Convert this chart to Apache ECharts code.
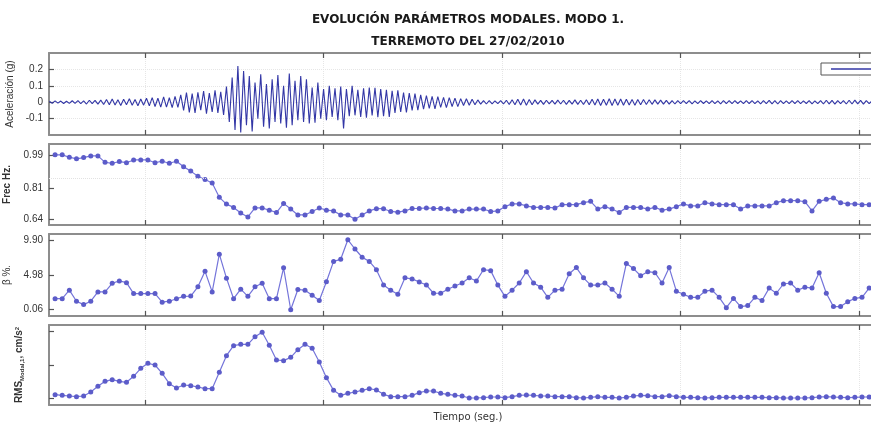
<!DOCTYPE html>
<html>
<head>
    <meta charset="utf-8">
    <script src="https://cdn.jsdelivr.net/npm/echarts@6.0.0/dist/echarts.min.js"></script>
    <style>html, body { margin: 0; padding: 0; background: #fff; }</style>
</head>
<body>
<div id="myChart" style="width: 871px; height: 428px;"></div>

<script type="text/javascript">
    var chart = echarts.init(document.getElementById('myChart'));

    // eje de tiempo: una ventana por índice, marcas cada 25 ventanas
    var xTicks = [12.6, 37.6, 62.6, 87.6, 112.6];

    // registro de aceleración (g), una muestra cada 0.4 ventanas
    var accStart = -0.8;
    var accStep = 0.4;
    var accel = [
        0.006, -0.007, 0.008, -0.006, 0.007, -0.008, 0.006, -0.007, 0.009, -0.007,
        0.01, -0.009, 0.008, -0.011, 0.012, -0.009, 0.011, -0.012, 0.013, -0.014,
        0.016, -0.015, 0.019, -0.017, 0.015, -0.02, 0.018, -0.016, 0.021, -0.019,
        0.017, -0.022, 0.02, -0.018, 0.024, -0.022, 0.028, -0.026, 0.024, -0.03,
        0.032, -0.03, 0.027, -0.033, 0.035, -0.032, 0.045, -0.05, 0.058, -0.062,
        0.052, -0.066, 0.06, -0.048, 0.068, -0.07, 0.055, -0.06, 0.072, -0.065,
        0.064, -0.078, 0.095, -0.12, 0.15, -0.17, 0.221, -0.185, 0.19, -0.14,
        0.16, -0.178, 0.12, -0.1, 0.17, -0.15, 0.11, -0.16, 0.14, -0.12,
        0.165, -0.13, 0.1, -0.155, 0.175, -0.14, 0.13, -0.11, 0.16, -0.12,
        0.14, -0.13, 0.09, -0.125, 0.12, -0.1, 0.08, -0.11, 0.1, -0.09,
        0.085, -0.11, 0.095, -0.16, 0.08, -0.085, 0.1, -0.08, 0.075, -0.09,
        0.085, -0.095, 0.09, -0.08, 0.088, -0.092, 0.08, -0.085, 0.075, -0.09,
        0.07, -0.065, 0.072, -0.06, 0.058, -0.062, 0.055, -0.05, 0.052, -0.048,
        0.045, -0.042, 0.04, -0.038, 0.036, -0.04, 0.034, -0.032, 0.03, -0.033,
        0.028, -0.026, 0.025, -0.027, 0.022, -0.02, 0.021, -0.019, 0.018, -0.016,
        0.014, -0.012, 0.01, -0.011, 0.009, -0.01, 0.008, -0.009, 0.01, -0.011,
        0.012, -0.014, 0.015, -0.016, 0.018, -0.017, 0.019, -0.018, 0.016, -0.015,
        0.014, -0.012, 0.011, -0.013, 0.012, -0.01, 0.011, -0.012, 0.013, -0.011,
        0.012, -0.013, 0.011, -0.012, 0.014, -0.013, 0.012, -0.014, 0.015, -0.016,
        0.018, -0.017, 0.019, -0.02, 0.018, -0.019, 0.021, -0.02, 0.019, -0.018,
        0.02, -0.019, 0.018, -0.017, 0.016, -0.018, 0.017, -0.015, 0.016, -0.014,
        0.015, -0.013, 0.014, -0.012, 0.013, -0.012, 0.011, -0.012, 0.01, -0.011,
        0.01, -0.009, 0.01, -0.008, 0.009, -0.01, 0.008, -0.009, 0.009, -0.008,
        0.008, -0.009, 0.01, -0.009, 0.008, -0.01, 0.009, -0.008, 0.01, -0.009,
        0.009, -0.008, 0.008, -0.009, 0.01, -0.008, 0.009, -0.009, 0.008, -0.01,
        0.01, -0.009, 0.011, -0.01, 0.009, -0.011, 0.01, -0.009, 0.008, -0.009,
        0.009, -0.008, 0.01, -0.009, 0.008, -0.008, 0.009, -0.01, 0.008, -0.009,
        0.01, -0.011, 0.012, -0.01, 0.011, -0.012, 0.01, -0.009, 0.01, -0.011,
        0.012, -0.011, 0.013, -0.01, 0.011, -0.012, 0.01, -0.009, 0.008, -0.009,
        0.008, -0.008, 0.007
    ];

    // frecuencia del modo 1 (Hz), una por ventana
    var frec = [
        0.99, 0.99, 0.977, 0.968, 0.975, 0.984, 0.984, 0.949, 0.944, 0.953,
        0.947, 0.962, 0.962, 0.962, 0.947, 0.955, 0.944, 0.955, 0.925, 0.901,
        0.873, 0.855, 0.836, 0.758, 0.721, 0.703, 0.672, 0.651, 0.70, 0.70,
        0.688, 0.675, 0.725, 0.694, 0.662, 0.662, 0.681, 0.70, 0.688, 0.684,
        0.662, 0.662, 0.638, 0.662, 0.684, 0.696, 0.696, 0.681, 0.677, 0.684,
        0.697, 0.697, 0.70, 0.697, 0.697, 0.694, 0.684, 0.684, 0.694, 0.694,
        0.694, 0.68, 0.684, 0.707, 0.722, 0.722, 0.711, 0.703, 0.703, 0.703,
        0.70, 0.718, 0.718, 0.718, 0.729, 0.736, 0.694, 0.707, 0.694, 0.675,
        0.703, 0.703, 0.703, 0.694, 0.703, 0.688, 0.694, 0.707, 0.722, 0.711,
        0.711, 0.729, 0.722, 0.718, 0.718, 0.718, 0.694, 0.711, 0.711, 0.711,
        0.711, 0.729, 0.74, 0.74, 0.74, 0.734, 0.684, 0.736, 0.747, 0.755,
        0.729, 0.722, 0.722, 0.718, 0.718
    ];

    // amortiguamiento (%)
    var beta = [
        1.61, 1.61, 2.81, 1.26, 0.78, 1.26, 2.57, 2.57, 3.78, 4.11,
        3.87, 2.33, 2.33, 2.33, 2.33, 1.12, 1.26, 1.61, 1.94, 1.98,
        3.29, 5.46, 2.57, 7.87, 4.50, 1.61, 2.95, 1.94, 3.29, 3.78,
        1.61, 1.61, 5.95, 0.06, 2.91, 2.81, 2.09, 1.36, 4.0, 6.86,
        7.15, 9.9, 8.6, 7.44, 6.86, 5.7, 3.53, 2.81, 2.23, 4.55,
        4.4, 3.97, 3.53, 2.38, 2.38, 2.95, 3.39, 3.82, 4.55, 4.1,
        5.7, 5.56, 3.53, 1.94, 2.81, 3.82, 5.41, 3.82, 3.24, 1.8,
        2.81, 2.95, 5.12, 5.99, 4.55, 3.53, 3.53, 3.82, 2.95, 1.94,
        6.57, 5.85, 4.84, 5.41, 5.27, 3.82, 5.99, 2.67, 2.23, 1.8,
        1.8, 2.67, 2.81, 1.8, 0.35, 1.65, 0.5, 0.64, 1.8, 1.36,
        3.1, 2.38, 3.68, 3.82, 2.81, 3.24, 3.1, 5.27, 2.38, 0.5,
        0.5, 1.2, 1.65, 1.8, 3.1
    ];

    // RMS modal (escala relativa, sin etiquetas en el original)
    var rms = [
        0.11, 0.09, 0.07, 0.05, 0.07, 0.19, 0.36, 0.51, 0.56, 0.51,
        0.48, 0.66, 0.90, 1.05, 1.0, 0.75, 0.44, 0.31, 0.40, 0.38,
        0.34, 0.29, 0.29, 0.78, 1.28, 1.58, 1.62, 1.62, 1.85, 1.98,
        1.59, 1.15, 1.13, 1.23, 1.46, 1.62, 1.5, 1.09, 0.62, 0.24,
        0.09, 0.15, 0.19, 0.24, 0.29, 0.25, 0.12, 0.05, 0.05, 0.05,
        0.09, 0.17, 0.22, 0.22, 0.15, 0.12, 0.09, 0.07, 0.01, 0.01,
        0.02, 0.04, 0.04, 0.02, 0.05, 0.09, 0.1, 0.09, 0.07, 0.07,
        0.05, 0.05, 0.05, 0.02, 0.01, 0.03, 0.05, 0.03, 0.03, 0.01,
        0.03, 0.07, 0.09, 0.08, 0.05, 0.05, 0.08, 0.05, 0.03, 0.03,
        0.02, 0.01, 0.02, 0.03, 0.03, 0.03, 0.03, 0.03, 0.03, 0.03,
        0.02, 0.02, 0.01, 0.01, 0.01, 0.01, 0.02, 0.04, 0.05, 0.04,
        0.03, 0.02, 0.03, 0.04, 0.04
    ];

    var accTicks = [-0.1, 0, 0.1, 0.2];
    var frecTicks = [0.64, 0.81, 0.99];
    var betaTicks = [0.06, 4.98, 9.90];
    var rmsTicks = [0, 1, 2];

    var accData = accel.map(function (v, k) {
        return [accStart + k * accStep, v];
    });
    function byWindow(arr) {
        return arr.map(function (v, i) { return [i, v]; });
    }

    var frameColor = '#8d8d8d';
    var tickColor = '#555';
    var labelFont = 'Liberation Sans';

    var panels = [
        {top: 53, height: 82, min: -0.2, max: 0.3, ticks: accTicks, digits: -1,
            name: 'Aceleración (g)', gap: 27, bold: false},
        {top: 144, height: 81, min: 0.607, max: 1.049, ticks: frecTicks, digits: 2,
            name: 'Frec Hz.', gap: 33, bold: true},
        {top: 234, height: 82, min: -0.82, max: 10.71, ticks: betaTicks, digits: 2,
            name: 'β %.', gap: 31, bold: false},
        {top: 325, height: 80, min: -0.2, max: 2.2, ticks: rmsTicks, digits: 0,
            name: '{a|RMS}{b|Modal,1}{a|, cm/s}{c|2}', gap: 24, bold: true},
    ];

    // el marco de cada panel lo dibujan las líneas de eje, las marcas van hacia dentro
    var frameLine = {show: true, onZero: false, lineStyle: {color: frameColor, width: 2}};

    var grid = [], xAxis = [], yAxis = [];
    panels.forEach(function (p, g) {
        grid.push({
            left: 49, width: 838, top: p.top, height: p.height,
            outerBoundsMode: 'none', containLabel: false,
        });
        // eje inferior (con rejilla punteada) y eje superior (solo marcas)
        ['bottom', 'top'].forEach(function (pos) {
            xAxis.push({
                type: 'value', gridIndex: g, position: pos,
                min: -0.85, max: 116.5,
                axisLine: frameLine,
                axisTick: {show: true, inside: true, length: 5, customValues: xTicks,
                    lineStyle: {color: tickColor, width: 1.2}},
                axisLabel: {show: false},
                splitLine: {show: pos === 'bottom', lineStyle: {color: '#e6e6e6', type: 'dotted'}},
                name: (g === 3 && pos === 'bottom') ? 'Tiempo (seg.)' : '',
                nameLocation: 'middle',
                nameGap: 7,
                nameTextStyle: {fontFamily: 'DejaVu Sans', fontSize: 10, color: '#333'},
            });
        });
        yAxis.push({
            type: 'value', gridIndex: g,
            min: p.min, max: p.max,
            axisLine: frameLine,
            axisTick: {show: true, inside: true, length: 5, customValues: p.ticks,
                lineStyle: {color: tickColor, width: 1.2}},
            axisLabel: {
                show: g !== 3, customValues: p.ticks, margin: 6,
                fontFamily: labelFont, fontSize: 10, color: '#333',
                formatter: function (v) {
                    return p.digits < 0 ? String(v) : v.toFixed(p.digits);
                },
            },
            splitLine: {show: g === 0, lineStyle: {color: '#e6e6e6', type: 'dotted'}},
            name: p.name,
            nameLocation: 'middle',
            nameGap: p.gap,
            nameTextStyle: {
                fontFamily: labelFont, fontSize: 10, color: '#333',
                fontWeight: p.bold ? 'bold' : 'normal',
                rich: {
                    a: {fontFamily: labelFont, fontSize: 10, fontWeight: 'bold', color: '#333'},
                    b: {fontFamily: labelFont, fontSize: 6, fontWeight: 'bold', color: '#333',
                        verticalAlign: 'bottom', padding: [5, 0, 0, 0]},
                    c: {fontFamily: labelFont, fontSize: 6, fontWeight: 'bold', color: '#333',
                        verticalAlign: 'top', padding: [0, 0, 5, 0]},
                },
            },
        });
    });

    var dotLine = {color: '#7474da', width: 1.2};
    var dotItem = {color: '#5c5cc9'};

    var option = {
        animation: false,
        title: [{
            text: 'EVOLUCIÓN PARÁMETROS MODALES. MODO 1.',
            left: 468, top: 14, textAlign: 'center', padding: 0,
            textStyle: {fontFamily: 'DejaVu Sans', fontSize: 12, fontWeight: 'bold', color: '#1a1a1a'},
        }, {
            text: 'TERREMOTO DEL 27/02/2010',
            left: 468, top: 36, textAlign: 'center', padding: 0,
            textStyle: {fontFamily: 'DejaVu Sans', fontSize: 12, fontWeight: 'bold', color: '#1a1a1a'},
        }],
        legend: {
            data: [{name: 'Aceleración', icon: 'rect'}],
            left: 821, top: 63,
            padding: [1, 10],
            itemWidth: 45, itemHeight: 1.5,
            borderColor: '#555', borderWidth: 1, backgroundColor: '#fff',
            textStyle: {fontFamily: labelFont, fontSize: 10, color: '#333'},
        },
        grid: grid,
        xAxis: xAxis,
        yAxis: yAxis,
        series: [{
            name: 'Aceleración',
            type: 'line',
            xAxisIndex: 0, yAxisIndex: 0,
            symbol: 'none',
            lineStyle: {color: '#3337a6', width: 1.1},
            itemStyle: {color: '#3337a6'},
            data: accData,
        }, {
            name: 'Frec',
            type: 'line',
            xAxisIndex: 2, yAxisIndex: 1,
            symbol: 'circle', symbolSize: 5,
            lineStyle: dotLine, itemStyle: dotItem,
            data: byWindow(frec),
            markLine: {
                silent: true, symbol: 'none', label: {show: false},
                lineStyle: {color: '#e2e2e2', type: 'dotted', width: 1},
                data: [{yAxis: 0.86}],
            },
        }, {
            name: 'Beta',
            type: 'line',
            xAxisIndex: 4, yAxisIndex: 2,
            symbol: 'circle', symbolSize: 5,
            lineStyle: dotLine, itemStyle: dotItem,
            data: byWindow(beta),
        }, {
            name: 'RMS',
            type: 'line',
            xAxisIndex: 6, yAxisIndex: 3,
            symbol: 'circle', symbolSize: 5,
            lineStyle: dotLine, itemStyle: dotItem,
            data: byWindow(rms),
        }],
    };

    chart.setOption(option);
</script>
</body>
</html>
